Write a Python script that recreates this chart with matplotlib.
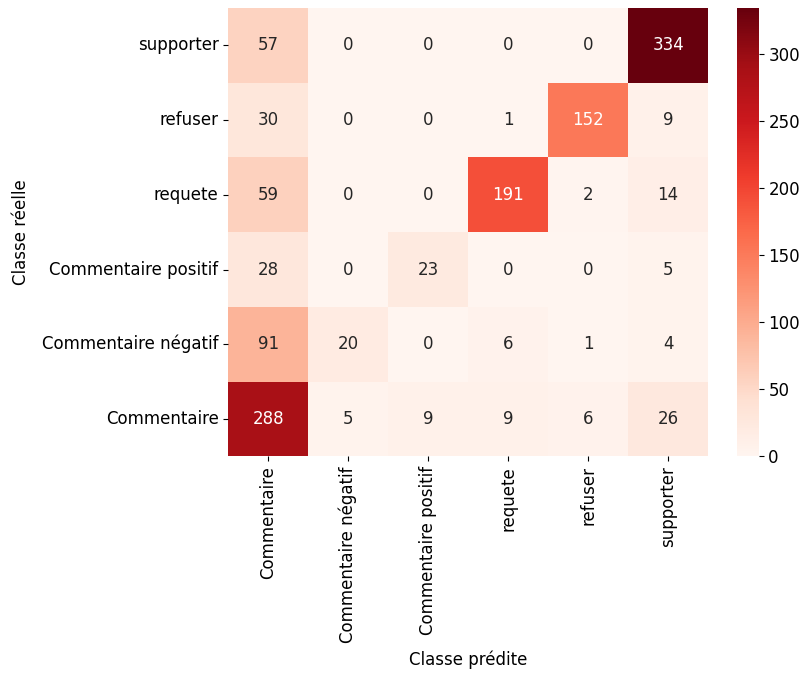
import numpy as np
import matplotlib
matplotlib.use("Agg")
import matplotlib.pyplot as plt
import seaborn as sns

classes = ["Commentaire", "Commentaire négatif", "Commentaire positif",
           "requete", "refuser", "supporter"]

row_commentaire = [288, 5, 9, 9, 6, 26]
row_negatif = [91, 20, 0, 6, 1, 4]
row_positif = [28, 0, 23, 0, 0, 5]
row_requete = [59, 0, 0, 191, 2, 14]
row_refuser = [30, 0, 0, 1, 152, 9]
row_supporter = [57, 0, 0, 0, 0, 334]

cm = np.array([row_commentaire, row_negatif, row_positif,
               row_requete, row_refuser, row_supporter])

plt.rcParams["font.size"] = 12

fig = plt.figure(figsize=(8.01, 6.73), dpi=100)
ax = fig.add_axes([0.285, 0.322, 0.599, 0.666])
cax = fig.add_axes([0.920, 0.322, 0.027, 0.666])

sns.heatmap(cm, annot=True, fmt="d", cmap="Reds", ax=ax, cbar_ax=cax,
            xticklabels=classes, yticklabels=classes,
            annot_kws={"fontsize": 12})
ax.invert_yaxis()
ax.set_xlabel("Classe prédite", fontsize=12, labelpad=6)
ax.set_ylabel("Classe réelle", fontsize=12, labelpad=9)
ax.tick_params(labelsize=12)
cax.tick_params(labelsize=12)
plt.setp(ax.get_xticklabels(), rotation=90)
plt.setp(ax.get_yticklabels(), rotation=0)

fig.savefig("out.png", dpi=100)
